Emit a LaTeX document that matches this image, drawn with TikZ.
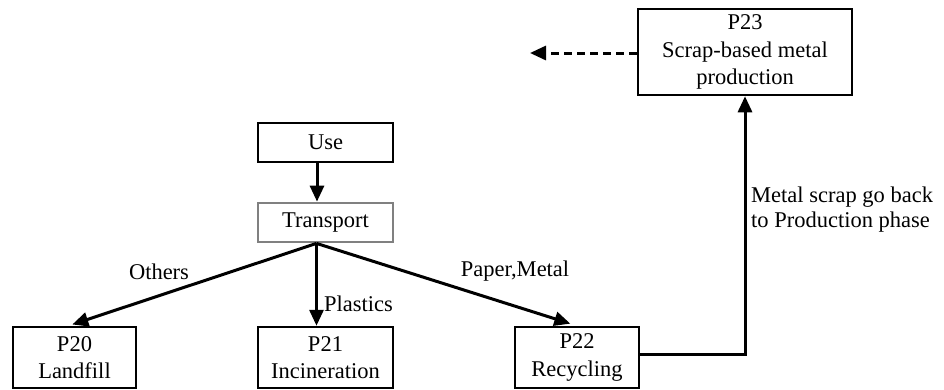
\documentclass[tikz,border=0pt]{standalone}
\usepackage{fontspec}
\setmainfont{Liberation Serif}
\usetikzlibrary{arrows.meta}

\tikzset{
  proc/.style={draw=black, line width=2.5pt, inner sep=0pt, align=center,
               font=\fontsize{22.5}{27.5}\selectfont},
  graybox/.style={proc, draw=black!50, line width=2.8pt},
  flow/.style={line width=3pt, -{Triangle[length=16pt,width=14pt]}},
  dashflow/.style={flow, dash pattern=on 8pt off 5pt},
  lbl/.style={font=\fontsize{22.5}{27.5}\selectfont, inner sep=0pt}
}

\begin{document}
\begin{tikzpicture}[x=1pt, y=-1pt]
  \useasboundingbox (0,0) rectangle (944,389);

  % process boxes
  \node[proc, minimum width=214pt, minimum height=86pt] (p23) at (745,52)
    {P23\\Scrap-based metal\\production};
  \node[proc, minimum width=135pt, minimum height=39pt] (use) at (325.5,142.5) {Use};
  \node[graybox, minimum width=135pt, minimum height=39pt] (transport) at (325.5,222.5) {Transport};
  \node[proc, minimum width=123pt, minimum height=61pt] (p20) at (74.5,357.5) {P20\\Landfill};
  \node[proc, minimum width=135pt, minimum height=61pt] (p21) at (325.5,357.5) {P21\\Incineration};
  \node[proc, minimum width=124pt, minimum height=61pt] (p22) at (577,357.5) {P22\\Recycling};

  % helper points
  \coordinate (out) at (530,53);
  \coordinate (fork) at ([xshift=-9pt]transport.south);

  % connectors
  \draw[flow] ([xshift=-8.5pt]use.south) -- ([xshift=-8.5pt]transport.north);
  \draw[flow, shorten >=4pt] (fork) -- ([xshift=-6pt]p20.north);
  \draw[flow] (fork) -- (fork |- p21.north);
  \draw[flow, shorten >=7pt] (fork) -- (p22.north);
  \draw[flow] ([yshift=3.5pt]p22.east) -| (p23.south);
  \draw[dashflow] (p23.west |- out) -- (out);

  % connector labels
  \node[lbl, anchor=base] (lothers) at (159,279) {Others};
  \node[lbl, anchor=base west] (lplastics) at (324,311) {Plastics};
  \node[lbl, anchor=base] (lpaper) at (515,276) {Paper,Metal};
  \node[lbl, anchor=base west] (lscrap1) at (751,202) {Metal scrap go back};
  \node[lbl, anchor=base west] (lscrap2) at (751,227) {to Production phase};
\end{tikzpicture}
\end{document}
